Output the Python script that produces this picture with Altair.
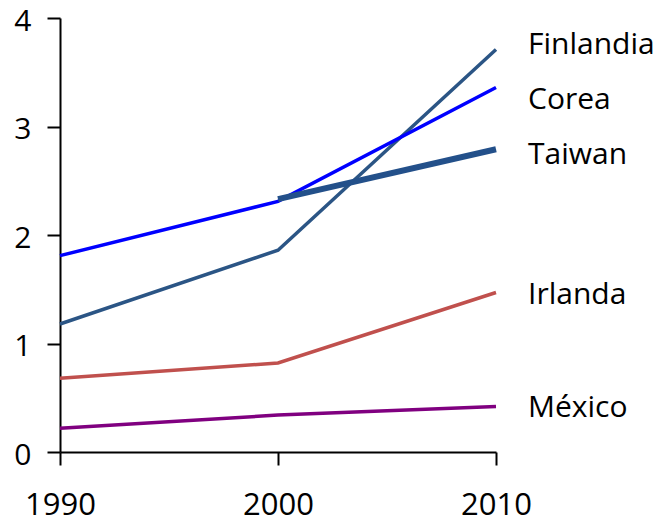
import altair as alt
import pandas as pd

# Series values by year
years = [1990, 2000, 2010]
finlandia = [1.18, 1.86, 3.71]
corea = [1.81, 2.31, 3.36]
taiwan = [None, 2.33, 2.79]
irlanda = [0.68, 0.82, 1.47]
mexico = [0.22, 0.34, 0.42]

countries = ["Finlandia", "Corea", "Taiwan", "Irlanda", "México"]
colors = ["#2B5585", "#0000FF", "#23508A", "#C0504D", "#800080"]
widths = [3.5, 3.5, 6, 3.5, 3.5]
# Vertical position for each end-of-line label
label_y = [3.75, 3.24, 2.74, 1.45, 0.41]

series = dict(zip(countries, [finlandia, corea, taiwan, irlanda, mexico]))

FONT = "Open Sans"

x = alt.X(
    "year:Q",
    scale=alt.Scale(domain=[1990, 2010], nice=False),
    axis=alt.Axis(values=years, format="d", title=None, grid=False,
                  labelFontSize=31, labelPadding=25, tickSize=13,
                  labelFlush=False),
)
y = alt.Y(
    "value:Q",
    scale=alt.Scale(domain=[0, 4], nice=False),
    axis=alt.Axis(values=[0, 1, 2, 3, 4], format="d", title=None, grid=False,
                  labelFontSize=30, labelPadding=16, tickSize=13,
                  labelOffset=3, labelFlush=False),
)

layers = []
for name, col, w in zip(countries, colors, widths):
    vals = series[name]
    d = pd.DataFrame([{"year": yr, "value": v} for yr, v in zip(years, vals) if v is not None])
    layers.append(
        alt.Chart(d).mark_line(color=col, strokeWidth=w, strokeCap="butt").encode(x=x, y=y)
    )

labels = pd.DataFrame({"country": countries, "year": [2010] * 5, "value": label_y})
text = alt.Chart(labels).mark_text(
    align="left", baseline="middle", dx=32, fontSize=30, font=FONT, color="black"
).encode(
    x="year:Q",
    y="value:Q",
    text="country:N",
)
layers.append(text)

chart = alt.layer(*layers).properties(
    width=436, height=434,
    autosize=alt.AutoSizeParams(type="none"),
    padding={"left": 60, "top": 18, "right": 169, "bottom": 71},
    background="white",
).configure_view(stroke=None).configure_axis(
    domainColor="black", domainWidth=2, tickColor="black", tickWidth=2,
    labelColor="black", labelFont=FONT,
)

chart.save("out.html", embed_options={"renderer": "svg", "actions": False})
